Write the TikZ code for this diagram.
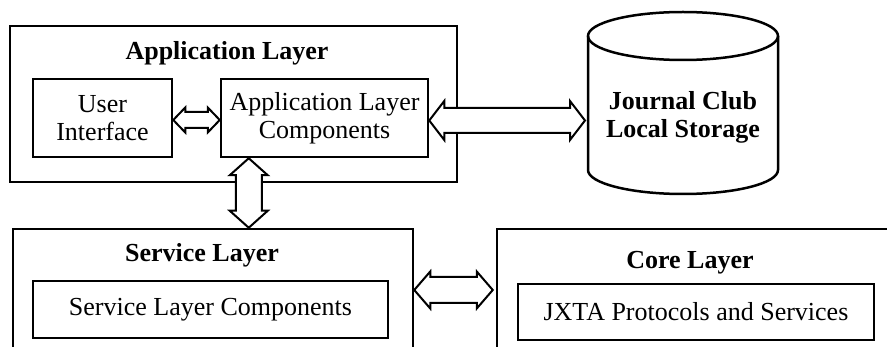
\documentclass[tikz,border=0pt]{standalone}
\usepackage{fontspec}
\setmainfont{Liberation Serif}
\usetikzlibrary{calc}
\newcommand{\hdblarrow}[5]{% left tip, right tip, head length, head half, shaft half
  \draw[dblarrow] (#1) -- ($(#1)+(#3,-#4)$) -- ($(#1)+(#3,-#5)$) -- ($(#2)+(-#3,-#5)$) -- ($(#2)+(-#3,-#4)$) -- (#2)
    -- ($(#2)+(-#3,#4)$) -- ($(#2)+(-#3,#5)$) -- ($(#1)+(#3,#5)$) -- ($(#1)+(#3,#4)$) -- cycle;}
\newcommand{\vdblarrow}[5]{% top tip, bottom tip, head length, head half, shaft half
  \draw[dblarrow] (#1) -- ($(#1)+(-#4,#3)$) -- ($(#1)+(-#5,#3)$) -- ($(#2)+(-#5,-#3)$) -- ($(#2)+(-#4,-#3)$) -- (#2)
    -- ($(#2)+(#4,-#3)$) -- ($(#2)+(#5,-#3)$) -- ($(#1)+(#5,#3)$) -- ($(#1)+(#4,#3)$) -- cycle;}
\begin{document}
\begin{tikzpicture}[x=1pt,y=-1pt,
  every node/.style={inner sep=0pt, font=\fontsize{26}{28}\selectfont},
  box/.style={draw, line width=2.5pt, align=center},
  titletext/.style={font=\fontsize{26}{28}\selectfont\bfseries, anchor=base},
  cyl/.style={line width=2.5pt},
  dblarrow/.style={draw, line width=2pt, fill=white, line join=miter}]
\useasboundingbox (0,0) rectangle (887,347);
\clip (0,0) rectangle (887,347);

% Application layer
\node[box, minimum width=447pt, minimum height=156pt] (app) at (233.5,104) {};
\node[titletext] (apptitle) at (227,60) {Application Layer};
\node[box, minimum width=139pt, minimum height=78pt] (ui) at (102.5,118) {User\\Interface};
\node[box, minimum width=207pt, minimum height=78pt] (alc) at (324.5,118) {Application Layer\\Components};

% Storage cylinder
\draw[cyl] (683,36) ellipse [x radius=95pt, y radius=24pt];
\draw[cyl] (588,36) -- (588,170) arc[start angle=180, end angle=360, x radius=95pt, y radius=24pt] -- (778,36);
\node[align=center, font=\fontsize{26}{28}\selectfont\bfseries] (store) at (683,117) {Journal Club\\Local Storage};

% Service layer
\node[box, minimum width=400pt, minimum height=140pt] (svc) at (213,299) {};
\node[titletext] (svctitle) at (202,262) {Service Layer};
\node[box, minimum width=355pt, minimum height=57pt] (slc) at (210.5,309.5) {Service Layer Components};

% Core layer
\node[box, minimum width=420pt, minimum height=140pt] (core) at (707,299) {};
\node[titletext] (coretitle) at (690,269) {Core Layer};
\node[box, minimum width=356pt, minimum height=56pt] (jxta) at (696,312) {JXTA Protocols and Services};

% Connectors
\coordinate (a1) at ($(ui.east)+(0,2)$);
\coordinate (a2) at (alc.west |- a1);
\hdblarrow{a1}{a2}{12}{12.5}{8}

\coordinate (b1) at ($(alc.east)+(0,2.5)$);
\coordinate (b2) at ($(588,0 |- b1)+(-3,0)$);
\hdblarrow{b1}{b2}{15}{19.5}{12.5}

\coordinate (c1) at ($(alc.south west)+(29,0)$);
\coordinate (c2) at (c1 |- svc.north);
\vdblarrow{c1}{c2}{17}{19}{13}

\coordinate (d1) at (svc.east |- 0,290);
\coordinate (d2) at ($(core.west |- d1)+(-3,0)$);
\hdblarrow{d1}{d2}{16}{18.5}{13}
\end{tikzpicture}
\end{document}
